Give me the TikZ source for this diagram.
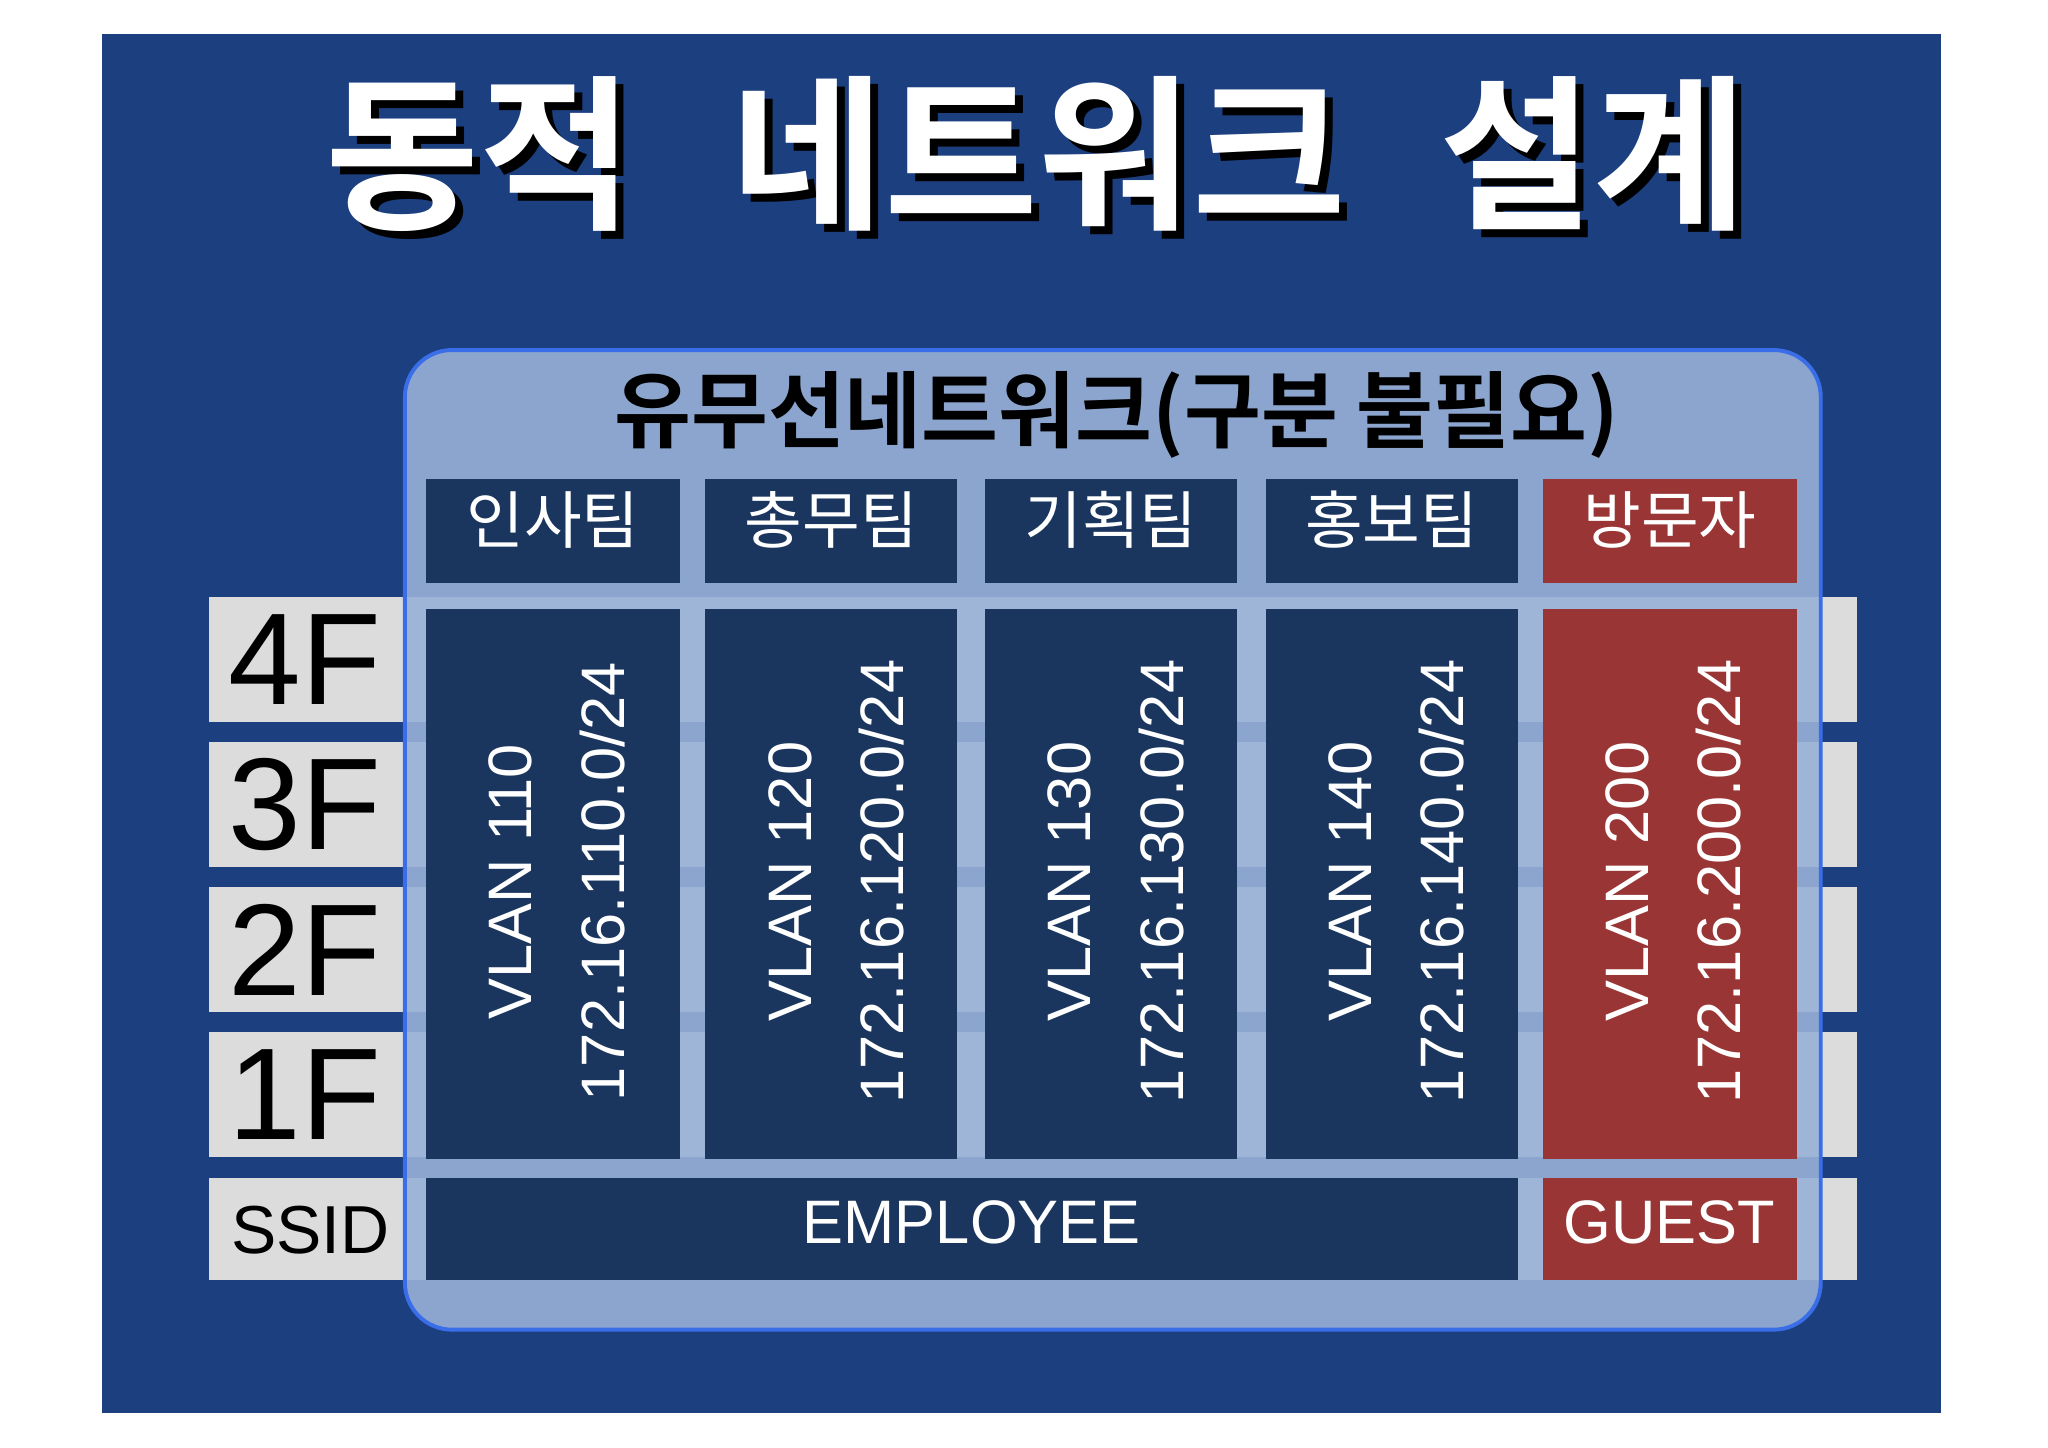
\documentclass[tikz,border=0pt]{standalone}
\usepackage{fontspec}
\setmainfont{Liberation Sans}
\newfontfamily\kr{Noto Sans CJK KR}
\newfontfamily\krb{Noto Sans CJK KR Bold}
\definecolor{bgblue}{HTML}{1C3F80}
\definecolor{navy}{HTML}{1B365E}
\definecolor{redb}{HTML}{993535}
\definecolor{panel}{HTML}{98B1D8}
\definecolor{pborder}{HTML}{3A6EE8}
\definecolor{strip}{HTML}{DCDCDC}
\begin{document}
\begin{tikzpicture}[x=0.5pt,y=-0.5pt,
  cell/.style={fill=navy},
  redcell/.style={fill=redb},
  hdr/.style={text=white,font=\kr\fontsize{24}{24}\selectfont},
  vtxt/.style={text=white,rotate=90,font=\fontsize{23.5}{24}\selectfont},
  flr/.style={anchor=west,font=\fontsize{50}{50}\selectfont},
  ttl/.style={font=\krb\fontsize{64}{64}\selectfont}]
\fill[white] (0,0) rectangle (1568,1108);
\useasboundingbox (0,0) rectangle (1568,1108);
\fill[bgblue] (78,26) rectangle (1486,1082);
% title with shadow
\foreach \t/\x in {동적/367,네트워크/795,설계/1220}{
  \node[ttl,text=black] at (\x+6,124) {\t};
  \node[ttl,text=white] at (\x,118) {\t};
}
% strips
\foreach \a/\b in {457/553,568/664,679/775,790/886,902/980}
  \fill[strip] (160,\a) rectangle (1422,\b);
% panel
\fill[panel,fill opacity=0.9,rounded corners=18] (310,268) rectangle (1394,1018);
\draw[pborder,line width=1.5pt,rounded corners=18] (310,268) rectangle (1394,1018);
\node[font=\krb\fontsize{32}{32}\selectfont] (ptitle) at (855,318) {유무선네트워크(구분 불필요)};
% floor labels
\node[flr] (f4) at (168,505) {4F};
\node[flr] (f3) at (168,616) {3F};
\node[flr] (f2) at (168,727) {2F};
\node[flr] (f1) at (168,838) {1F};
\node[anchor=west,font=\fontsize{26}{26}\selectfont] (ss) at (170,942) {SSID};
% columns
\foreach \xa/\xb/\nm/\v/\st in {326/521/인사팀/110/cell,540/733/총무팀/120/cell,754/947/기획팀/130/cell,969/1162/홍보팀/140/cell,1181/1376/방문자/200/redcell}{
  \fill[\st] (\xa,367) rectangle (\xb,446);
  \node[hdr] at ({(\xa+\xb)/2},398) {\nm};
  \fill[\st] (\xa,466) rectangle (\xb,887);
  \node[vtxt] at (\xa+65,675) {VLAN \v};
  \node[vtxt] at (\xa+135,675) {172.16.\v.0/24};
}
\fill[navy] (326,902) rectangle (1162,980);
\node[text=white,font=\fontsize{23.5}{24}\selectfont] (emp) at (744,936) {EMPLOYEE};
\fill[redb] (1181,902) rectangle (1376,980);
\node[text=white,font=\fontsize{23.5}{24}\selectfont] (gst) at (1278,936) {GUEST};
\end{tikzpicture}
\end{document}
